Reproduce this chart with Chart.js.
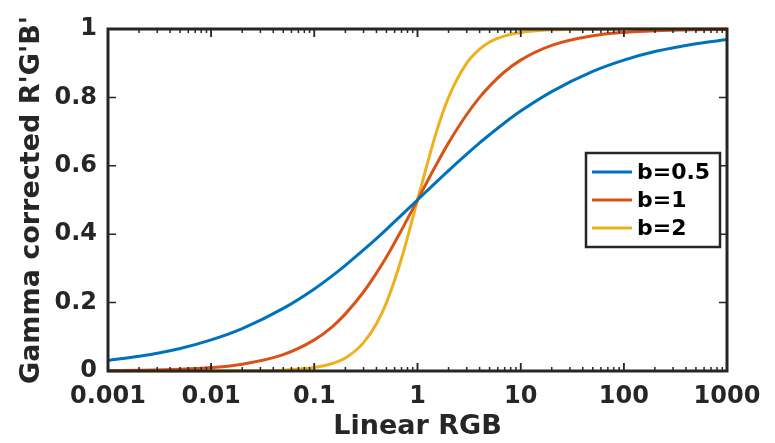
<!DOCTYPE html>
<html>
<head>
<meta charset="utf-8">
<script src="https://cdn.jsdelivr.net/npm/chart.js@4/dist/chart.umd.min.js"></script>
<style>
  html, body { margin: 0; padding: 0; background: #fff; }
  #wrap { width: 775px; height: 443px; }
</style>
</head>
<body>
<div id="wrap"><canvas id="c" width="775" height="443"></canvas></div>
<script>
// values
const xs = [0.001, 0.002, 0.005, 0.01, 0.02, 0.05, 0.1, 0.15, 0.2, 0.3, 0.4, 0.5, 0.7, 1,
            1.5, 2, 3, 4, 5, 7, 10, 20, 50, 100, 200, 500, 1000];
const b05 = [0.031, 0.043, 0.066, 0.091, 0.124, 0.183, 0.240, 0.279, 0.309, 0.354, 0.387, 0.414, 0.456, 0.5,
             0.551, 0.586, 0.634, 0.667, 0.691, 0.726, 0.760, 0.817, 0.876, 0.909, 0.934, 0.957, 0.969];
const b1 = [0.001, 0.002, 0.005, 0.010, 0.020, 0.048, 0.091, 0.130, 0.167, 0.231, 0.286, 0.333, 0.412, 0.5,
            0.600, 0.667, 0.750, 0.800, 0.833, 0.875, 0.909, 0.952, 0.980, 0.990, 0.995, 0.998, 0.999];
const b2 = [0, 0, 0, 0.0001, 0.0004, 0.0025, 0.010, 0.022, 0.038, 0.083, 0.138, 0.200, 0.329, 0.5,
            0.692, 0.800, 0.900, 0.941, 0.962, 0.980, 0.990, 0.9975, 0.9996, 1, 1, 1, 1];
const labels = ['b=0.5', 'b=1', 'b=2'];
const colors = ['#0072BD', '#D95319', '#EDB120'];
const xTicks = [0.001, 0.01, 0.1, 1, 10, 100, 1000];
const yTicks = [0, 0.2, 0.4, 0.6, 0.8, 1];

const axisColor = '#262626';
const font = 'DejaVu Sans';

const series = [b05, b1, b2].map((ys, i) => ({
  label: labels[i],
  data: xs.map((x, j) => ({ x: x, y: ys[j] })),
  borderColor: colors[i],
  backgroundColor: colors[i],
  borderWidth: 3,
  pointRadius: 0,
  cubicInterpolationMode: 'monotone',
  clip: 4
}));

// box, inward ticks and legend drawn MATLAB-style
const boxPlugin = {
  id: 'box',
  afterDatasetsDraw(chart) {
    const ctx = chart.ctx, a = chart.chartArea;
    const xs_ = chart.scales.x, ys_ = chart.scales.y;
    ctx.save();
    ctx.strokeStyle = axisColor;
    ctx.lineWidth = 1.5;
    // minor + major x ticks, top and bottom
    for (let d = -3; d < 3; d++) {
      for (let m = 1; m <= 10; m++) {
        const v = m * Math.pow(10, d);
        const px = xs_.getPixelForValue(v);
        const len = (m === 1 || m === 10) ? 8 : 4;
        ctx.beginPath();
        ctx.moveTo(px, a.bottom); ctx.lineTo(px, a.bottom - len);
        ctx.moveTo(px, a.top); ctx.lineTo(px, a.top + len);
        ctx.stroke();
      }
    }
    yTicks.forEach(v => {
      const py = ys_.getPixelForValue(v);
      ctx.beginPath();
      ctx.moveTo(a.left, py); ctx.lineTo(a.left + 8, py);
      ctx.moveTo(a.right, py); ctx.lineTo(a.right - 8, py);
      ctx.stroke();
    });
    ctx.lineWidth = 3;
    ctx.strokeRect(a.left, a.top, a.right - a.left, a.bottom - a.top);

    // legend
    const lx = 586, ly = 153, lw = 134, lh = 94;
    ctx.fillStyle = '#fff';
    ctx.fillRect(lx, ly, lw, lh);
    ctx.lineWidth = 2.5;
    ctx.strokeRect(lx, ly, lw, lh);
    ctx.font = 'bold 22px "' + font + '"';
    ctx.textBaseline = 'middle';
    chart.data.datasets.forEach((ds, i) => {
      const yy = ly + 19 + i * 28;
      ctx.strokeStyle = ds.borderColor;
      ctx.lineWidth = 3;
      ctx.beginPath();
      ctx.moveTo(lx + 6, yy); ctx.lineTo(lx + 46, yy);
      ctx.stroke();
      ctx.fillStyle = '#000';
      ctx.fillText(ds.label, lx + 51, yy + 1);
    });
    ctx.restore();
  }
};

new Chart(document.getElementById('c'), {
  type: 'line',
  data: { datasets: series },
  plugins: [boxPlugin],
  options: {
    responsive: false,
    animation: false,
    events: [],
    layout: { padding: { top: 29, right: 48, left: 0, bottom: 0 } },
    plugins: { legend: { display: false }, tooltip: { enabled: false } },
    scales: {
      x: {
        type: 'logarithmic',
        min: 0.001,
        max: 1000,
        afterBuildTicks: s => { s.ticks = xTicks.map(v => ({ value: v })); },
        afterFit: s => { s.height = 72; },
        grid: { display: false, drawTicks: false },
        border: { display: false },
        ticks: {
          color: '#262626',
          padding: 11,
          maxRotation: 0,
          autoSkip: false,
          font: { family: font, size: 24, weight: 'bold' },
          callback: v => String(v)
        },
        title: {
          display: true,
          text: 'Linear RGB',
          color: '#262626',
          padding: { top: 3, bottom: 0 },
          font: { family: font, size: 27, weight: 'bold' }
        }
      },
      y: {
        min: 0,
        max: 1,
        afterBuildTicks: s => { s.ticks = yTicks.map(v => ({ value: v })); },
        afterFit: s => { s.width = 108; },
        grid: { display: false, drawTicks: false },
        border: { display: false },
        ticks: {
          color: '#262626',
          padding: 11,
          font: { family: font, size: 24, weight: 'bold' },
          callback: v => String(Math.round(v * 10) / 10)
        },
        title: {
          display: true,
          text: "Gamma corrected R'G'B'",
          color: '#262626',
          padding: { top: 16, bottom: 0 },
          font: { family: font, size: 27, weight: 'bold' }
        }
      }
    }
  }
});
</script>
</body>
</html>
